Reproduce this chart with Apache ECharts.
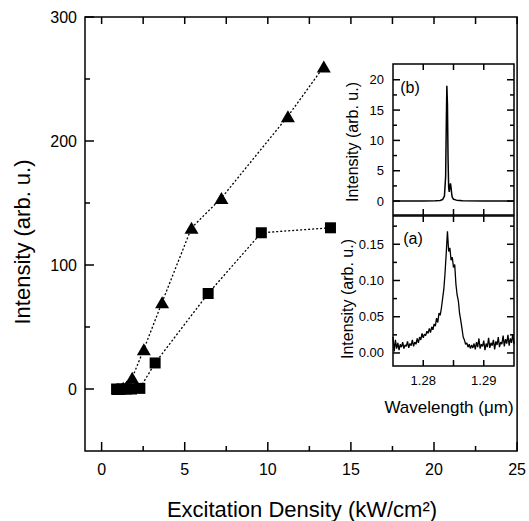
<!DOCTYPE html>
<html>
<head>
<meta charset="utf-8">
<script src="https://cdn.jsdelivr.net/npm/echarts@6/dist/echarts.min.js"></script>
<style>html,body{margin:0;padding:0;background:#fff}#c{width:529px;height:521px}</style>
</head>
<body>
<div id="c"></div>
<script>
// ---- Main plot data (Excitation density kW/cm^2 vs Intensity arb. u.) ----
var triX = [1.0, 1.3, 1.5, 1.84, 2.54, 3.64, 5.41, 7.21, 11.21, 13.37];
var triY = [0, 1, 2, 9, 32, 70, 130, 154, 220, 260];
var sqX = [0.9, 1.2, 1.5, 1.8, 2.3, 3.22, 6.41, 9.61, 13.77];
var sqY = [0, 0, 0, 0, 0.5, 21, 77, 126, 130];
var mainXTicks = [0, 5, 10, 15, 20, 25];
var mainXMinor = [2.5, 7.5, 12.5, 17.5, 22.5];
var mainYTicks = [0, 100, 200, 300];
var mainYMinor = [50, 150, 250];

// ---- Inset (b): lasing spectrum ----
var specBX = [1.2750, 1.2800, 1.2820, 1.2828, 1.2832, 1.2835, 1.2837, 1.2838, 1.2839, 1.2840, 1.2841, 1.2842, 1.2843, 1.2844, 1.2845, 1.2846, 1.2847, 1.2848, 1.2850, 1.2855, 1.2865, 1.2900, 1.2950];
var specBY = [0, 0.02, 0.05, 0.1, 0.25, 0.8, 4, 12, 19, 16, 7, 2.2, 1.5, 2.4, 2.9, 2.2, 1.2, 0.6, 0.3, 0.15, 0.05, 0.02, 0];
var bYTicks = [0, 5, 10, 15, 20];
var bYMinor = [2.5, 7.5, 12.5, 17.5];

// ---- Inset (a): spontaneous emission spectrum ----
var specAX = [1.2750, 1.2752, 1.2754, 1.2756, 1.2758, 1.2760, 1.2762, 1.2764, 1.2766, 1.2768,
  1.2770, 1.2772, 1.2774, 1.2776, 1.2778, 1.2780, 1.2782, 1.2784, 1.2786, 1.2788,
  1.2790, 1.2792, 1.2794, 1.2796, 1.2798, 1.2800, 1.2802, 1.2804, 1.2806, 1.2808,
  1.2810, 1.2812, 1.2814, 1.2816, 1.2818, 1.2820, 1.2822, 1.2824, 1.2826, 1.2828,
  1.2830, 1.2832, 1.2834, 1.2836, 1.2838, 1.2840, 1.2842, 1.2844, 1.2846, 1.2848,
  1.2850, 1.2852, 1.2854, 1.2856, 1.2858, 1.2860, 1.2862, 1.2864, 1.2866, 1.2868,
  1.2870, 1.2872, 1.2874, 1.2876, 1.2878, 1.2880, 1.2882, 1.2884, 1.2886, 1.2888,
  1.2890, 1.2892, 1.2894, 1.2896, 1.2898, 1.2900, 1.2902, 1.2904, 1.2906, 1.2908,
  1.2910, 1.2912, 1.2914, 1.2916, 1.2918, 1.2920, 1.2922, 1.2924, 1.2926, 1.2928,
  1.2930, 1.2932, 1.2934, 1.2936, 1.2938, 1.2940, 1.2942, 1.2944, 1.2946, 1.2948, 1.2950];
var specAY = [0.022, 0.002, 0.018, 0.006, 0.014, 0.004, 0.012, 0.008, 0.015, 0.006,
  0.011, 0.009, 0.016, 0.007, 0.013, 0.010, 0.018, 0.009, 0.015, 0.012,
  0.020, 0.014, 0.022, 0.018, 0.027, 0.021, 0.026, 0.024, 0.030, 0.027,
  0.034, 0.028, 0.036, 0.032, 0.040, 0.037, 0.048, 0.042, 0.055, 0.052,
  0.062, 0.075, 0.088, 0.110, 0.138, 0.168, 0.140, 0.145, 0.128, 0.132,
  0.118, 0.122, 0.095, 0.080, 0.072, 0.055, 0.045, 0.034, 0.022, 0.018,
  0.012, 0.014, 0.008, 0.012, 0.006, 0.011, 0.007, 0.013, 0.005, 0.015,
  0.008, 0.020, 0.006, 0.012, 0.009, 0.017, 0.004, 0.013, 0.008, 0.021,
  0.007, 0.014, 0.010, 0.018, 0.005, 0.016, 0.011, 0.022, 0.008, 0.015,
  0.012, 0.024, 0.009, 0.019, 0.013, 0.025, 0.010, 0.020, 0.014, 0.026, 0.012];
var aYTicks = [0, 0.05, 0.10, 0.15];
var aYMinor = [0.025, 0.075, 0.125, 0.175];
var wlTicks = [1.28, 1.29];
var wlAllTicks = [1.28, 1.285, 1.29];

// axis ranges
var mainXRange = [-1, 25], mainYRange = [-50, 300];
var wlRange = [1.275, 1.295], bYRange = [-2.3, 22.6], aYRange = [-0.018, 0.189];

function pairs(xs, ys) { return xs.map(function (x, i) { return [x, ys[i]]; }); }

var FONT = "'Liberation Sans', Arial, Helvetica, sans-serif";
var BLACK = '#000';

function valAxis(grid, pos, range, labels, fs, margin, fmt) {
  var lab = { show: false };
  if (labels) {
    lab = { show: true, customValues: labels, color: BLACK, fontFamily: FONT, fontSize: fs, margin: margin };
    if (fmt) lab.formatter = fmt;
  }
  return {
    type: 'value', gridIndex: grid, position: pos, min: range[0], max: range[1],
    axisLine: { show: false, onZero: false },
    splitLine: { show: false },
    axisTick: { show: false },
    axisLabel: lab
  };
}

// Tick marks as thin rect symbols placed on the plot edge through the axis scales, pointing inward
function tickSeries(axisIdx, dim, side, values, range, len) {
  var size, offset, data;
  if (dim === 'x') {
    var yEdge = side === 'bottom' ? range[0] : range[1];
    data = values.map(function (v) { return [v, yEdge]; });
    size = [1.5, len];
    offset = [0, side === 'bottom' ? -len / 2 : len / 2];
  } else {
    var xEdge = side === 'left' ? range[0] : range[1];
    data = values.map(function (v) { return [xEdge, v]; });
    size = [len, 1.5];
    offset = [side === 'left' ? len / 2 : -len / 2, 0];
  }
  return {
    type: 'scatter', xAxisIndex: axisIdx, yAxisIndex: axisIdx, clip: false, silent: true, z: 10,
    data: data, symbol: 'rect', symbolSize: size, symbolOffset: offset,
    itemStyle: { color: BLACK, opacity: 1 }
  };
}

var chart = echarts.init(document.getElementById('c'), null, { renderer: 'svg', width: 529, height: 521 });
chart.setOption({
  animation: false,
  grid: [
    { left: 85, top: 17, width: 434, height: 434, show: true, borderColor: BLACK, borderWidth: 1.5 },
    { left: 393, top: 64, width: 121, height: 151, show: true, borderColor: BLACK, borderWidth: 1.5 },
    { left: 393, top: 216, width: 121, height: 150, show: true, borderColor: BLACK, borderWidth: 1.5 }
  ],
  xAxis: [
    valAxis(0, 'bottom', mainXRange, mainXTicks, 16, 10),
    valAxis(1, 'bottom', wlRange, null, 13, 9),
    valAxis(2, 'bottom', wlRange, wlTicks, 13, 8, function (v) { return v.toFixed(2); })
  ],
  yAxis: [
    valAxis(0, 'left', mainYRange, mainYTicks, 16, 8),
    valAxis(1, 'left', bYRange, bYTicks, 13, 9),
    valAxis(2, 'left', aYRange, aYTicks, 13, 9, function (v) { return v.toFixed(2); })
  ],
  series: [
    {
      type: 'line', xAxisIndex: 0, yAxisIndex: 0, data: pairs(triX, triY),
      symbol: 'triangle', symbolSize: [14, 12], showAllSymbol: true,
      lineStyle: { color: BLACK, width: 1.3, type: [2, 2] }, itemStyle: { color: BLACK }, z: 3
    },
    {
      type: 'line', xAxisIndex: 0, yAxisIndex: 0, data: pairs(sqX, sqY),
      symbol: 'rect', symbolSize: 11, showAllSymbol: true,
      lineStyle: { color: BLACK, width: 1.3, type: [2, 2] }, itemStyle: { color: BLACK }, z: 3
    },
    {
      type: 'line', xAxisIndex: 1, yAxisIndex: 1, data: pairs(specBX, specBY),
      showSymbol: false, symbol: 'none', clip: true,
      lineStyle: { color: BLACK, width: 1.5 }, z: 4
    },
    {
      type: 'line', xAxisIndex: 2, yAxisIndex: 2, data: pairs(specAX, specAY),
      showSymbol: false, symbol: 'none', clip: true,
      lineStyle: { color: BLACK, width: 1.3 }, z: 4
    },
    // main plot ticks
    tickSeries(0, 'x', 'bottom', mainXTicks, mainYRange, 9),
    tickSeries(0, 'x', 'bottom', mainXMinor, mainYRange, 5),
    tickSeries(0, 'x', 'top', mainXTicks.concat(mainXMinor), mainYRange, 7),
    tickSeries(0, 'y', 'left', mainYTicks, mainXRange, 9),
    tickSeries(0, 'y', 'left', mainYMinor, mainXRange, 5),
    // inset (b) ticks
    tickSeries(1, 'x', 'top', wlAllTicks, bYRange, 6),
    tickSeries(1, 'x', 'bottom', wlAllTicks, bYRange, 6),
    tickSeries(1, 'y', 'left', bYTicks, wlRange, 7),
    tickSeries(1, 'y', 'left', bYMinor, wlRange, 4),
    tickSeries(1, 'y', 'right', bYTicks, wlRange, 7),
    tickSeries(1, 'y', 'right', bYMinor, wlRange, 4),
    // inset (a) ticks
    tickSeries(2, 'x', 'top', wlAllTicks, aYRange, 6),
    tickSeries(2, 'x', 'bottom', wlAllTicks, aYRange, 6),
    tickSeries(2, 'y', 'left', aYTicks, wlRange, 7),
    tickSeries(2, 'y', 'left', aYMinor, wlRange, 4),
    tickSeries(2, 'y', 'right', aYTicks, wlRange, 7),
    tickSeries(2, 'y', 'right', aYMinor, wlRange, 4)
  ],
  graphic: [
    { type: 'text', x: 302, y: 509, style: { text: 'Excitation Density (kW/cm\u00B2)', font: '22px ' + FONT, fill: BLACK, textAlign: 'center', textVerticalAlign: 'middle' } },
    { type: 'text', x: 22, y: 242, rotation: Math.PI / 2, style: { text: 'Intensity (arb. u.)', font: '22px ' + FONT, fill: BLACK, textAlign: 'center', textVerticalAlign: 'middle' } },
    { type: 'text', x: 352, y: 142, rotation: Math.PI / 2, style: { text: 'Intensity (arb. u.)', font: '16px ' + FONT, fill: BLACK, textAlign: 'center', textVerticalAlign: 'middle' } },
    { type: 'text', x: 347, y: 299, rotation: Math.PI / 2, style: { text: 'Intensity (arb. u.)', font: '16px ' + FONT, fill: BLACK, textAlign: 'center', textVerticalAlign: 'middle' } },
    { type: 'text', x: 449, y: 407, style: { text: 'Wavelength (\u03BCm)', font: '17px ' + FONT, fill: BLACK, textAlign: 'center', textVerticalAlign: 'middle' } },
    { type: 'text', x: 410, y: 87, style: { text: '(b)', font: '16px ' + FONT, fill: BLACK, textAlign: 'center', textVerticalAlign: 'middle' } },
    { type: 'text', x: 413, y: 238, style: { text: '(a)', font: '16px ' + FONT, fill: BLACK, textAlign: 'center', textVerticalAlign: 'middle' } }
  ]
});
</script>
</body>
</html>
